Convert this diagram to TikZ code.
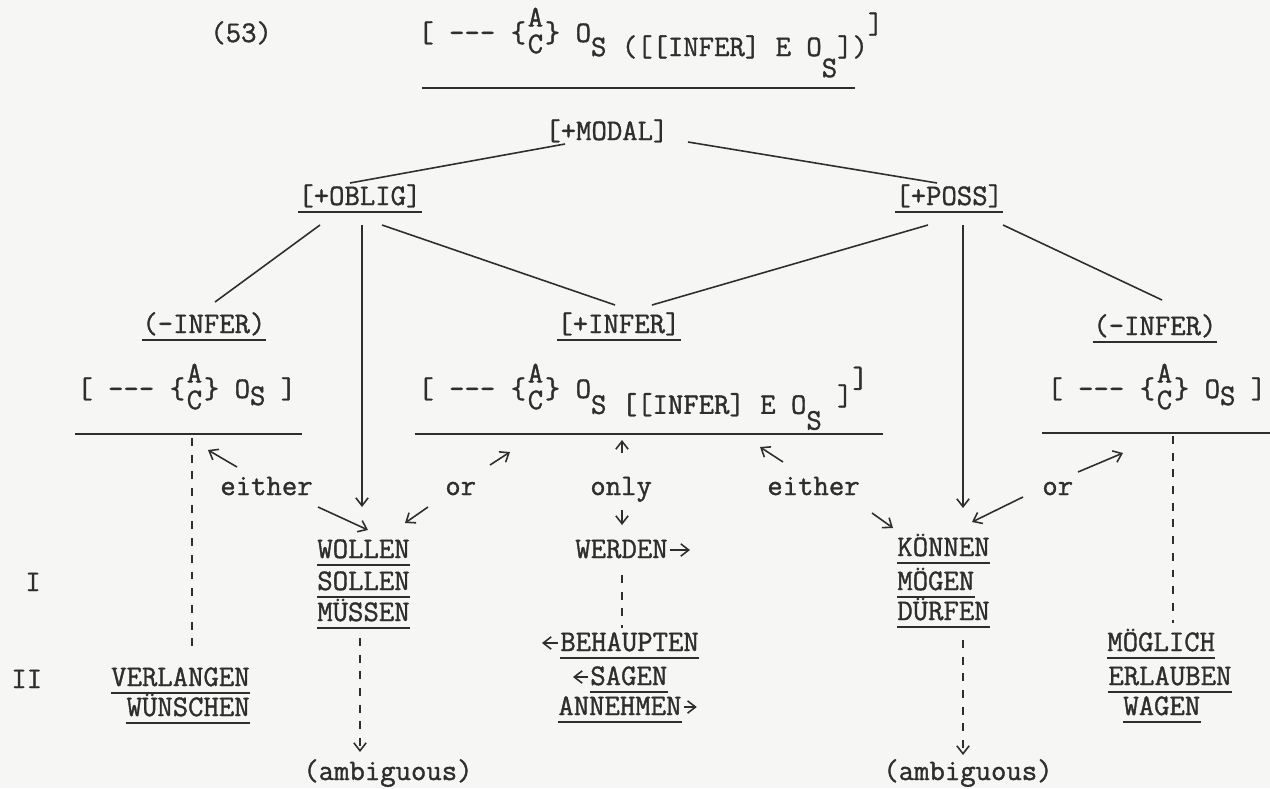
\documentclass[tikz,border=0pt]{standalone}
\usepackage{xcolor}
\usepackage{fontspec}
\usepackage{tikz}
\usetikzlibrary{positioning, arrows.meta, calc}
\newfontfamily\typew{Latin Modern Mono}[FakeBold=1.2]
\definecolor{paper}{HTML}{F6F6F4}
\definecolor{ink}{HTML}{2E2E2E}

% stacked A over C in braces, and a lowered piece of text
\newcommand{\AC}{\{\kern1pt{\renewcommand\arraystretch{0.8}\begin{tabular}{@{}c@{}}A\\C\end{tabular}}\kern1pt\}}
\newcommand{\lo}[2]{\raisebox{-#1}{#2}}

\begin{document}
\begin{tikzpicture}[x=0.02cm, y=-0.02cm,
  every node/.style={text=ink, font=\fontsize{17}{19}\selectfont\typew,
                     inner xsep=0pt, inner ysep=1pt},
  word/.style={anchor=base west},
  feat/.style={anchor=base west,
               append after command={([yshift=-4pt]\tikzlastnode.base west)
                 edge[ink, line width=1pt] ([yshift=-4pt]\tikzlastnode.base east)}},
  featr/.style={feat, anchor=base east},
  link/.style={ink, line width=0.9pt},
  arr/.style={link, -{Straight Barb[length=4.5pt,width=7pt]}},
  dashln/.style={link, dash pattern=on 4.5pt off 5pt}]
  \fill[paper] (0,0) rectangle (1270,788);
  \useasboundingbox (0,0) rectangle (1270,788);

  % formulas
  \node[word] (num)  at (210,42) {(53)};
  \node[word] (ftop) at (418,42)
    {[ -{}-{}- \AC\ O\lo{8pt}{S ([[INFER] E O}\lo{20pt}{S}\lo{8pt}{])}\raisebox{5pt}{]}};
  \node[word] (fL) at (77,398) {[ -{}-{}- \AC\ O\lo{4pt}{S} ]};
  \node[word] (fM) at (418,398)
    {[ -{}-{}- \AC\ O\lo{9pt}{S [[INFER] E O}\lo{18pt}{S}\lo{4pt}{ ]}\raisebox{6pt}{]}};
  \node[word] (fR) at (1047,398) {[ -{}-{}- \AC\ O\lo{4pt}{S} ]};
  \draw[link] ($(ftop.base west)+(4,46)$) -- ($(ftop.base west)+(437,46)$);
  \draw[link] ($(fL.base west)+(-2,36)$)  -- ($(fL.base west)+(225,36)$);
  \draw[link] ($(fM.base west)+(-3,36)$)  -- ($(fM.base west)+(465,36)$);
  \draw[link] ($(fR.base west)+(-5,35)$)  -- ($(fR.base west)+(223,35)$);

  % features
  \node[word] (modal)   at (545,140)  {[+MODAL]};
  \node[feat] (oblig)   at (298,205)  {[+OBLIG]};
  \node[feat] (poss)    at (895,205)  {[+POSS]};
  \node[feat] (negL)    at (142,333)  {(-INFER)};
  \node[feat] (plusinf) at (557,333)  {[+INFER]};
  \node[feat] (negR)    at (1093,335) {(-INFER)};

  % verbs
  \node[feat]  (wollen)    at (317,558)  {WOLLEN};
  \node[feat]  (sollen)    at (317,590)  {SOLLEN};
  \node[feat]  (muessen)   at (317,621)  {MÜSSEN};
  \node[word]  (werden)    at (575,558)  {WERDEN};
  \node[feat]  (behaupten) at (560,651)  {BEHAUPTEN};
  \node[feat]  (sagen)     at (590,685)  {SAGEN};
  \node[feat]  (annehmen)  at (558,715)  {ANNEHMEN};
  \node[feat]  (koennen)   at (897,556)  {KÖNNEN};
  \node[feat]  (moegen)    at (897,590)  {MÖGEN};
  \node[feat]  (duerfen)   at (897,620)  {DÜRFEN};
  \node[featr] (verlangen) at (250,686)  {VERLANGEN};
  \node[featr] (wuenschen) at (250,716)  {WÜNSCHEN};
  \node[feat]  (moeglich)  at (1107,651) {MÖGLICH};
  \node[feat]  (erlauben)  at (1108,685) {ERLAUBEN};
  \node[feat]  (wagen)     at (1123,715) {WAGEN};
  \node[word]  (ambL)      at (303,780)  {(ambiguous)};
  \node[word]  (ambR)      at (883,780)  {(ambiguous)};
  \node[word]  (one)       at (25,591)   {I};
  \node[word]  (two)       at (11,688)   {II};

  % either / or / only
  \node[word] (eitherL) at (220,495) {either};
  \node[word] (orL)     at (445,495) {or};
  \node[word] (only)    at (590,495) {only};
  \node[word] (eitherR) at (767,495) {either};
  \node[word] (orR)     at (1042,495) {or};

  % tree lines
  \draw[link] ($(modal.base west)+(20,4)$)  -- ($(oblig.base west)+(52,-22)$);
  \draw[link] ($(modal.base west)+(143,2)$) -- ($(poss.base west)+(42,-22)$);
  \draw[link] ($(oblig.base west)+(22,20)$) -- ($(negL.base west)+(73,-31)$);
  \draw[link] ($(oblig.base west)+(84,20)$) -- ($(plusinf.base west)+(58,-28)$);
  \draw[link] ($(poss.base west)+(33,20)$)  -- ($(plusinf.base west)+(95,-28)$);
  \draw[link] ($(poss.base west)+(108,20)$) -- ($(negR.base west)+(69,-35)$);
  \draw[arr]  ($(oblig.base west)+(64,20)$) -- ($(wollen.base west)+(45,-51)$);
  \draw[arr]  ($(poss.base west)+(68,20)$)  -- ($(koennen.base west)+(66,-48)$);

  % small arrows
  \draw[arr] ($(eitherL.base west)+(17,-28)$) -- ($(fL.base west)+(131,52)$);
  \draw[arr] ($(eitherL.base west)+(98,12)$)  -- ($(wollen.base west)+(51,-28)$);
  \draw[arr] ($(orL.base west)+(45,-30)$)     -- ($(fM.base west)+(92,54)$);
  \draw[arr] ($(orL.base west)+(-17,12)$)     -- ($(wollen.base west)+(88,-35)$);
  \draw[arr] ($(only.base west)+(32,-42)$)    -- ($(fM.base west)+(204,42)$);
  \draw[arr] ($(only.base west)+(32,15)$)     -- ($(werden.base west)+(47,-33)$);
  \draw[arr] ($(eitherR.base west)+(16,-33)$) -- ($(fM.base west)+(342,49)$);
  \draw[arr] ($(eitherR.base west)+(105,18)$) -- ($(koennen.base west)+(-4,-28)$);
  \draw[arr] ($(orR.base west)+(-19,2)$)      -- ($(koennen.base west)+(75,-34)$);
  \draw[arr] ($(orR.base west)+(36,-23)$)     -- ($(fR.base west)+(76,55)$);
  \draw[arr] ($(werden.base east)+(2,-8)$)    -- ++(20,0);
  \draw[arr] ($(behaupten.base west)+(-2,-8)$) -- ++(-16,0);
  \draw[arr] ($(sagen.base west)+(-2,-8)$)    -- ++(-15,0);
  \draw[arr] ($(annehmen.base east)+(2,-8)$)  -- ++(13,0);

  % dashed
  \draw[dashln] ($(fL.base west)+(115,40)$)      -- ($(verlangen.base east)+(-58,-39)$);
  \draw[dashln,arr] ($(muessen.base west)+(43,17)$) -- ($(ambL.base west)+(57,-28)$);
  \draw[dashln] ($(werden.base west)+(47,17)$)   -- ($(behaupten.base west)+(62,-23)$);
  \draw[dashln,arr] ($(duerfen.base west)+(66,20)$) -- ($(ambR.base west)+(80,-25)$);
  \draw[dashln] ($(fR.base west)+(126,38)$)      -- ($(moeglich.base west)+(66,-28)$);
\end{tikzpicture}
\end{document}
